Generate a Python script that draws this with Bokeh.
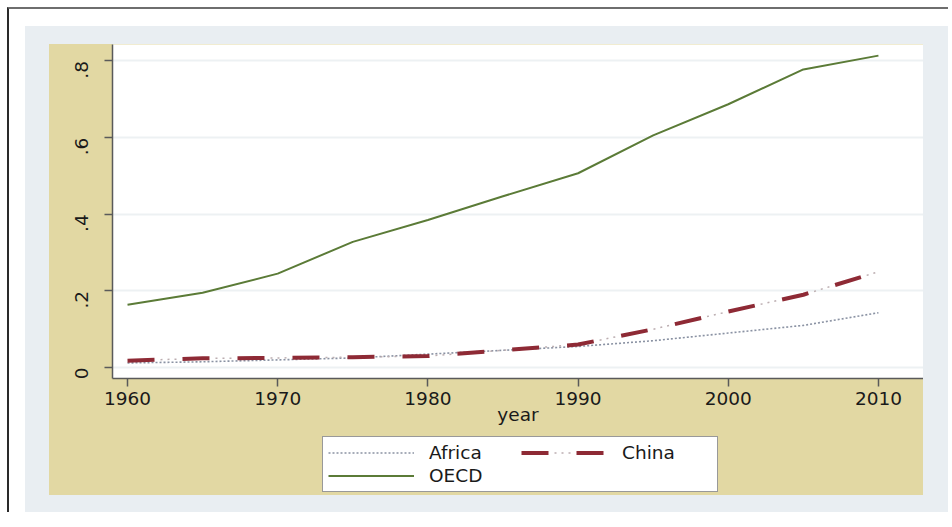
import math
from bokeh.plotting import figure
from bokeh.models import Legend, LegendItem, FixedTicker, Range1d
from bokeh.layouts import column
from bokeh.embed import file_html
from bokeh.resources import INLINE

# ---- data ----
years = [1960, 1965, 1970, 1975, 1980, 1985, 1990, 1995, 2000, 2005, 2010]
africa = [0.012, 0.015, 0.020, 0.025, 0.035, 0.045, 0.055, 0.070, 0.090, 0.110, 0.143]
china = [0.018, 0.024, 0.025, 0.027, 0.030, 0.045, 0.060, 0.100, 0.146, 0.190, 0.250]
oecd = [0.164, 0.195, 0.245, 0.328, 0.385, 0.447, 0.507, 0.606, 0.687, 0.778, 0.814]
series_names = ["Africa", "China", "OECD"]
x_ticks = [1960, 1970, 1980, 1990, 2000, 2010]
y_ticks = [0, 0.2, 0.4, 0.6, 0.8]
y_tick_labels = ["0", ".2", ".4", ".6", ".8"]

TAN = "#E2D8A3"
BLUEGREY = "#E9EEF2"
FONT = "DejaVu Sans"
FS = "18.5px"
AF_STYLE = dict(line_color="#8a92a3", line_width=1.6, line_dash="2 2")
CN_STYLE = dict(line_color="#8E2A35", line_width=4, line_dash="27 28")
CN2_STYLE = dict(line_color="#bcaeb1", line_width=1.5, line_dash="0 33 2 5 2 5 2 6")
OE_STYLE = dict(line_color="#5b7b37", line_width=2)

p = figure(width=874, height=383,
           x_range=Range1d(1959, 2013), y_range=Range1d(-0.0286, 0.843),
           output_backend="svg", toolbar_location=None,
           min_border_left=63, min_border_right=0, min_border_top=0, min_border_bottom=0,
           background_fill_color="white", border_fill_color=TAN,
           outline_line_color=None)

p.line(years, africa, **AF_STYLE)
p.line(years, china, **CN_STYLE)
p.line(years, china, **CN2_STYLE)
p.line(years, oecd, **OE_STYLE)

# axes
p.xaxis.ticker = FixedTicker(ticks=x_ticks)
p.yaxis.ticker = FixedTicker(ticks=y_ticks)
p.yaxis.major_label_overrides = {t: l for t, l in zip(y_ticks, y_tick_labels)}
p.yaxis.major_label_orientation = math.pi / 2
for ax in (p.xaxis, p.yaxis):
    ax.axis_line_color = "#5a5a5a"
    ax.axis_line_width = 1.5
    ax.major_tick_line_color = "#5a5a5a"
    ax.major_tick_line_width = 1.5
    ax.major_tick_out = 8
    ax.major_tick_in = 0
    ax.minor_tick_line_color = None
    ax.major_label_text_font = FONT
    ax.major_label_text_font_size = FS
    ax.major_label_text_color = "#1a1a1a"
p.xaxis.major_label_standoff = 5
p.yaxis.major_label_standoff = 23
p.xaxis.axis_label = "year"
p.xaxis.axis_label_text_font = FONT
p.xaxis.axis_label_text_font_size = FS
p.xaxis.axis_label_text_font_style = "normal"
p.xaxis.axis_label_text_color = "#1a1a1a"
p.xaxis.axis_label_standoff = -4

p.xgrid.grid_line_color = None
p.ygrid.grid_line_color = "#EDF1F3"
p.ygrid.grid_line_width = 2

# legend strip (separate panel below the axis title); its lines sit outside its view
lg = figure(width=874, height=68, x_range=Range1d(1959, 2013), y_range=Range1d(5, 6),
            x_axis_type=None, y_axis_type=None,
            output_backend="svg", toolbar_location=None,
            min_border_left=0, min_border_right=0, min_border_top=0, min_border_bottom=0,
            background_fill_color=TAN, background_fill_alpha=0,
            border_fill_color=TAN, border_fill_alpha=0, outline_line_color=None)
lg.xgrid.grid_line_color = None
lg.ygrid.grid_line_color = None
l_af = lg.line(years, africa, **AF_STYLE)
l_cn = lg.line(years, china, **CN_STYLE)
l_cn2 = lg.line(years, china, **CN2_STYLE)
l_oe = lg.line(years, oecd, **OE_STYLE)

legend = Legend(items=[
    LegendItem(label=series_names[0], renderers=[l_af]),
    LegendItem(label=series_names[1], renderers=[l_cn, l_cn2]),
    LegendItem(label=series_names[2], renderers=[l_oe]),
], orientation="horizontal", nrows=2, location=(210, 3))
legend.border_line_color = "#333333"
legend.border_line_width = 1.5
legend.background_fill_color = "white"
legend.background_fill_alpha = 1
legend.label_text_font = FONT
legend.label_text_font_size = FS
legend.label_text_color = "#1a1a1a"
legend.glyph_width = 86
legend.glyph_height = 15
legend.label_height = 15
legend.label_width = 90
legend.label_standoff = 15
legend.spacing = 2
legend.padding = 5
legend.margin = 0
lg.add_layout(legend, "center")

inner = column(p, lg, styles={"background-color": TAN, "border-style": "solid",
                              "border-color": BLUEGREY, "border-width": "18px 25px 17px 24px"})
outer = column(inner, styles={"border-top": "2px solid #6e6e6e", "border-left": "2px solid #2a2a2a",
                              "padding": "17px 0px 0px 16px", "background-color": "white",
                              "margin-left": "7px", "margin-top": "7px"})

open("out.html", "w").write(file_html(outer, INLINE))
